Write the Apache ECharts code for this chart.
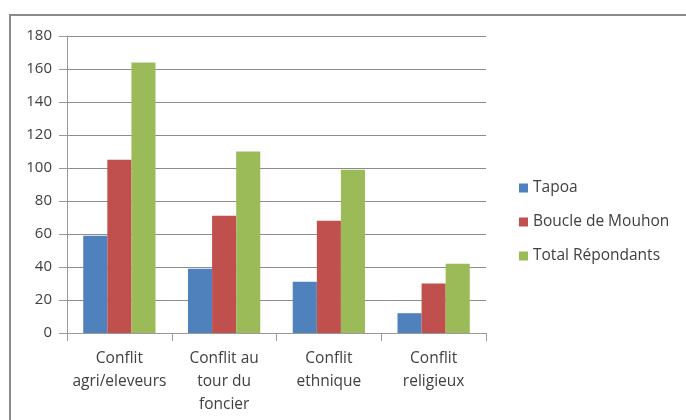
<!DOCTYPE html>
<html lang="fr">
<head>
    <meta charset="UTF-8">
    <title>Conflits</title>
    <script src="https://cdn.jsdelivr.net/npm/echarts@6/dist/echarts.min.js"></script>
    <style>
        html, body { margin: 0; padding: 0; background: #fff; }
        #chart { width: 686px; height: 420px; }
    </style>
</head>
<body>
    <div id="chart"></div>
    <script>
    // données
    var categories = ['Conflit\nagri/eleveurs', 'Conflit au\ntour du\nfoncier', 'Conflit\nethnique', 'Conflit\nreligieux'];
    var tapoa = [59, 39, 31, 12];
    var boucle = [105, 71, 68, 30];
    var total = [164, 110, 99, 42];
    var seriesNames = ['Tapoa', 'Boucle de Mouhon', 'Total Répondants'];
    var colors = ['#4F81BD', '#C0504D', '#9BBB59'];

    var chart = echarts.init(document.getElementById('chart'));
    var font = 'Open Sans, Noto Sans, sans-serif';

    var option = {
        animation: false,
        color: colors,
        textStyle: { fontFamily: font },
        graphic: [{
            type: 'polyline',
            shape: { points: [[10, 420], [10, 15], [686, 15]] },
            style: { stroke: '#8a8a8a', lineWidth: 2, fill: null }
        }],
        grid: { left: 67, right: 200, top: 36, bottom: 87 },
        legend: {
            orient: 'vertical',
            left: 514,
            top: 173,
            itemWidth: 9,
            itemHeight: 9,
            itemGap: 14,
            icon: 'rect',
            textStyle: { fontSize: 15.5, color: '#404040', fontFamily: font, lineHeight: 20 },
            data: seriesNames
        },
        xAxis: {
            type: 'category',
            data: categories,
            axisLine: { lineStyle: { color: '#9a9a9a' } },
            axisTick: { show: true, length: 8, lineStyle: { color: '#9a9a9a' } },
            axisLabel: { fontSize: 15.5, color: '#404040', lineHeight: 23, margin: 14, interval: 0 }
        },
        yAxis: {
            type: 'value',
            min: 0,
            max: 180,
            interval: 20,
            axisLine: { show: true, lineStyle: { color: '#9a9a9a' } },
            axisTick: { show: true, length: 8, lineStyle: { color: '#9a9a9a' } },
            axisLabel: { fontSize: 15, color: '#404040', margin: 15 },
            splitLine: { lineStyle: { color: '#8c8c8c' } }
        },
        series: [
            { name: seriesNames[0], type: 'bar', data: tapoa, barGap: 0, barCategoryGap: '31%' },
            { name: seriesNames[1], type: 'bar', data: boucle, barGap: 0, barCategoryGap: '31%' },
            { name: seriesNames[2], type: 'bar', data: total, barGap: 0, barCategoryGap: '31%' }
        ]
    };

    chart.setOption(option);
    </script>
</body>
</html>
